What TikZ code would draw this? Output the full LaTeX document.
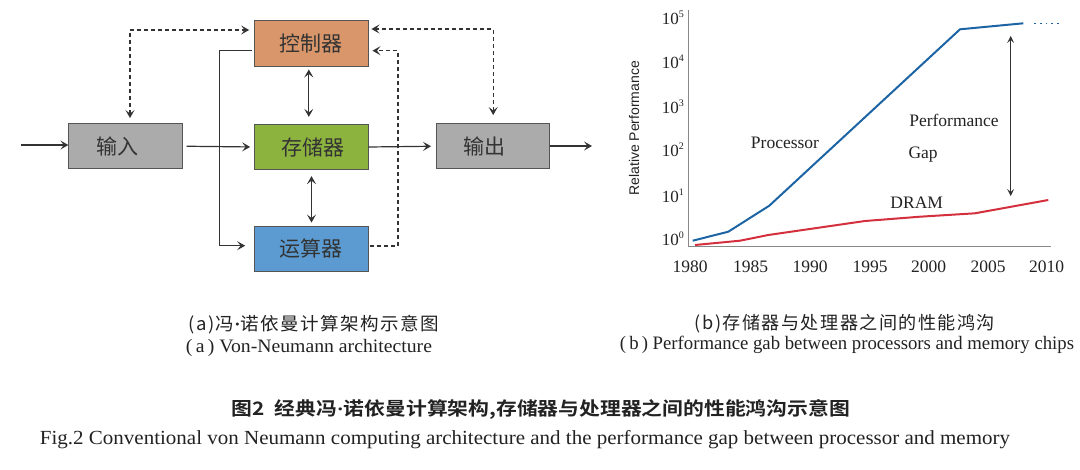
\documentclass[tikz,border=0pt]{standalone}
\usepackage{fontspec}
\usepackage{graphicx}
\setmainfont{Liberation Serif}
\newfontfamily\cjk{Noto Sans CJK SC}
\newfontfamily\cjksp{Noto Sans CJK SC}[LetterSpace=8]
\newfontfamily\cjkb{Noto Sans CJK SC}[BoldFont={Noto Sans CJK SC Bold}]
\newfontfamily\chsans{Liberation Sans}
\usetikzlibrary{arrows.meta}
\definecolor{cOrange}{HTML}{D9966A}
\definecolor{cGreen}{HTML}{8DB33F}
\definecolor{cBlue}{HTML}{5B9BD1}
\definecolor{cGray}{HTML}{ABABAB}
\definecolor{cBorder}{HTML}{555555}
\definecolor{cLine}{HTML}{333333}
\definecolor{cProc}{HTML}{1C64A4}
\definecolor{cDram}{HTML}{D42F3C}
\definecolor{cAxis}{HTML}{888888}
\definecolor{cText}{HTML}{222222}
\newcommand{\fitw}[2]{\resizebox{#1}{\height}{#2}}
\newcommand{\tenpow}[1]{10\raisebox{7pt}{\fontsize{10}{12}\selectfont #1}}
\newcommand{\mdot}{{\rmfamily\bfseries ·}}
\tikzset{
  blockbox/.style={draw=cBorder, line width=0.9pt, minimum width=113.4pt, minimum height=45.4pt, inner sep=0pt,
    font=\cjk\fontsize{21}{24}\selectfont, text=cLine},
  conn/.style={draw=cLine, line width=1.2pt},
  arr/.style={conn, -{Stealth[length=8pt,width=9pt,inset=3.5pt]}},
  darr/.style={conn, {Stealth[length=8pt,width=9pt,inset=3.5pt]}-{Stealth[length=8pt,width=9pt,inset=3.5pt]}},
  dsh/.style={dash pattern=on 4pt off 3pt},
  axisline/.style={draw=cAxis, line width=1pt},
  ticklab/.style={font=\fontsize{17.5}{20}\selectfont, text=cText, inner sep=0pt},
  ylab/.style={font=\fontsize{17}{20}\selectfont, text=cText, inner sep=0pt, anchor=east},
  curvelab/.style={font=\fontsize{17.5}{20}\selectfont, text=cText, inner sep=0pt},
  captxt/.style={inner sep=0pt, text=cText},
}
\begin{document}
\begin{tikzpicture}[x=1pt,y=-1pt]
\useasboundingbox (0,0) rectangle (1080,469);
% ---------------- (a) architecture ----------------
\node[blockbox, fill=cOrange] (ctrl) at (311.3,43.3) {控制器};
\node[blockbox, fill=cGreen]  (mem)  at (311.3,147)  {\kern4pt存储器};
\node[blockbox, fill=cBlue]   (alu)  at (311.3,248.7) {运算器};
\node[blockbox, fill=cGray]   (in)   at (125.5,146.2) {\kern-16pt输入};
\node[blockbox, fill=cGray]   (out)  at (493.2,146.2) {\kern-18pt输出};

\coordinate (inS) at (21,145);
\coordinate (outE) at (592,146);
\coordinate (dk) at (398,50.7);

\draw[arr] (inS) -- (inS -| in.west);
\draw[arr] (out.east |- outE) -- (outE);
\draw[arr, shorten <=4pt, shorten >=4pt] (in.east) -- (mem.west);
\draw[arr, shorten >=5pt] (mem.east) -- (out.west);
\draw[arr] ([xshift=-2pt,yshift=-7pt]ctrl.west) -| ([xshift=-35pt,yshift=3pt]alu.west) -- ([xshift=-9pt,yshift=3pt]alu.west);
\draw[darr, shorten <=3pt, shorten >=7pt] ([xshift=-2.5pt]ctrl.south) -- ([xshift=-2.5pt]mem.north);
\draw[darr, shorten <=6pt, shorten >=3pt] ([xshift=0.2pt]mem.south) -- ([xshift=0.2pt]alu.north);
% dashed control lines
\draw[darr, dsh, shorten <=5pt, shorten >=5pt] ([xshift=4.5pt]in.north) |- ([yshift=13.3pt]ctrl.west);
\draw[darr, dsh, shorten <=8pt, shorten >=3pt] (out.north) |- ([yshift=14.3pt]ctrl.east);
\draw[arr, dsh, shorten <=2pt, shorten >=4pt] ([yshift=2.7pt]alu.east) -| (dk) -- (dk -| ctrl.east);

% ---------------- (b) performance gap ----------------
\coordinate (o) at (688.3,246.5);
\coordinate (ytop) at (688.3,10);
\coordinate (xend) at (1050.7,246.5);
\draw[axisline] (ytop) -- (o) -- (xend);

\foreach \v/\yy in {0/239,1/195.5,2/150,3/106.5,4/62,5/17.5}
  \node[ylab] (yl\v) at (684,\yy) {\tenpow{\v}};
\foreach \yr/\xx in {1980/690,1985/750.7,1990/810,1995/870,2000/928.5,2005/988,2010/1046.7}
  \node[ticklab] (xl\yr) at (\xx,266.7) {\yr};

\node[rotate=90, font=\chsans\fontsize{14}{16}\selectfont, text=cText, inner sep=0pt] (ylabel) at (634,128.3) {Relative Performance};

% processor curve
\coordinate (p1) at (692.7,240.7);
\coordinate (p2) at (728.3,231.7);
\coordinate (p3) at (769.3,205.7);
\coordinate (p4) at (960,29.3);
\coordinate (p5) at (1023.3,23.3);
\coordinate (p6) at (1034,23.3);
\coordinate (p7) at (1062,23.3);
\draw[cProc, line width=2pt, line join=round] (p1) -- (p2) -- (p3) -- (p4) -- (p5);
\draw[cProc, line width=1.6pt, dash pattern=on 1.8pt off 4pt] (p6) -- (p7);

% DRAM curve
\coordinate (d1) at (695,245);
\coordinate (d2) at (740,240.7);
\coordinate (d3) at (768.3,235);
\coordinate (d4) at (865,221);
\coordinate (d5) at (920,216.7);
\coordinate (d6) at (975,213.3);
\coordinate (d7) at (1048.3,200);
\draw[cDram, line width=2pt, line join=round] (d1) -- (d2) -- (d3) -- (d4) -- (d5) -- (d6) -- (d7);

% gap arrow
\coordinate (g1) at (1010.7,36);
\coordinate (g2) at (1010.7,196);
\draw[cLine, line width=0.8pt, {Stealth[length=7pt,width=7pt,inset=3pt]}-{Stealth[length=7pt,width=7pt,inset=3pt]}] (g1) -- (g2);

\node[curvelab] (lproc) at (785,142.7) {Processor};
\node[curvelab] (lperf) at (954,120) {Performance};
\node[curvelab, anchor=west] (lgap) at (908.3,154.3) {Gap};
\node[curvelab] (ldram) at (916.7,202.3) {DRAM};

% ---------------- captions ----------------
\node[captxt] (ca1) at (314,325) {\fitw{251pt}{\cjksp\fontsize{18}{21}\selectfont (a)冯\mdot 诺依曼计算架构示意图}};
\node[captxt] (ca2) at (309,348) {\fitw{246pt}{\fontsize{19}{22}\selectfont (\,a\,)\ Von-Neumann architecture}};
\node[captxt] (cb1) at (845,324) {\fitw{300pt}{\cjksp\fontsize{18}{21}\selectfont (b)存储器与处理器之间的性能鸿沟}};
\node[captxt] (cb2) at (847,345) {\fitw{454pt}{\fontsize{19}{22}\selectfont (\,b\,)\ Performance gab between processors and memory chips}};
\node[captxt] (cm1) at (541,410) {\fitw{618pt}{\cjkb\bfseries\fontsize{18.5}{22}\selectfont 图2\ \ 经典冯\mdot 诺依曼计算架构,存储器与处理器之间的性能鸿沟示意图}};
\node[captxt] (cm2) at (525,440) {\fitw{970pt}{\fontsize{20}{23}\selectfont Fig.2 Conventional von Neumann computing architecture and the performance gap between processor and memory}};
\end{tikzpicture}
\end{document}
